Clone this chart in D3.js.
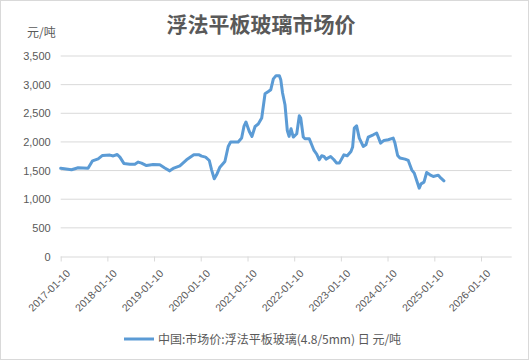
<!DOCTYPE html>
<html><head><meta charset="utf-8">
<script src="https://cdn.jsdelivr.net/npm/d3@7"></script>
<style>
html,body{margin:0;padding:0;background:#fff;}
svg{display:block;font-family:"Noto Sans CJK SC","Noto Sans",sans-serif;}
</style></head>
<body>
<svg id="chart" width="529" height="360"></svg>
<script>
const title = "浮法平板玻璃市场价";
const unitLabel = "元/吨";
const seriesName = "中国:市场价:浮法平板玻璃(4.8/5mm) 日 元/吨";
const dates = ["2017-01-10","2017-04-05","2017-05-26","2017-08-12","2017-09-16","2017-10-30","2017-12-03","2018-01-30","2018-02-25","2018-03-28","2018-04-18","2018-05-19","2018-07-05","2018-08-13","2018-09-08","2018-10-04","2018-11-12","2019-01-03","2019-02-24","2019-04-04","2019-05-13","2019-06-14","2019-07-31","2019-09-21","2019-11-17","2019-12-29","2020-01-17","2020-02-17","2020-03-17","2020-04-04","2020-04-25","2020-05-13","2020-06-08","2020-07-17","2020-08-12","2020-08-31","2020-10-29","2020-11-25","2020-12-13","2020-12-29","2021-01-24","2021-02-14","2021-03-10","2021-04-04","2021-05-01","2021-05-27","2021-06-22","2021-07-11","2021-07-31","2021-08-21","2021-09-16","2021-09-27","2021-10-11","2021-10-30","2021-11-17","2021-12-01","2021-12-16","2022-01-03","2022-01-30","2022-02-19","2022-03-02","2022-03-22","2022-04-04","2022-05-08","2022-05-27","2022-06-14","2022-07-05","2022-07-25","2022-08-13","2022-08-31","2022-09-16","2022-10-22","2022-11-17","2022-12-08","2022-12-29","2023-02-03","2023-03-01","2023-03-30","2023-04-12","2023-04-25","2023-05-13","2023-06-03","2023-07-04","2023-07-25","2023-08-12","2023-09-20","2023-10-17","2023-11-17","2023-12-13","2024-01-15","2024-02-23","2024-03-08","2024-03-29","2024-04-16","2024-05-26","2024-06-20","2024-07-17","2024-08-06","2024-08-25","2024-09-14","2024-09-28","2024-10-21","2024-11-11","2024-12-07","2025-01-02","2025-02-10","2025-03-03","2025-03-26"];
const prices = [1540,1515,1550,1540,1670,1705,1765,1770,1755,1780,1735,1625,1612,1612,1648,1630,1588,1606,1600,1545,1495,1543,1583,1688,1775,1775,1753,1735,1676,1513,1356,1426,1560,1658,1921,1998,1998,2068,2270,2348,2183,2096,2270,2312,2417,2840,2880,2912,3100,3157,3157,3087,2855,2650,2200,2096,2230,2085,2143,2458,2417,2085,2055,2055,1950,1851,1788,1688,1758,1746,1700,1746,1688,1630,1630,1775,1758,1833,1910,2242,2283,2067,1921,1950,2085,2125,2155,1980,2026,2038,2067,1980,1763,1718,1700,1676,1513,1455,1326,1193,1268,1298,1466,1426,1396,1420,1368,1321];
const xTickLabels = ["2017-01-10","2018-01-10","2019-01-10","2020-01-10","2021-01-10","2022-01-10","2023-01-10","2024-01-10","2025-01-10","2026-01-10"];
const yTicks = [0,500,1000,1500,2000,2500,3000,3500];

const parse = d3.timeParse("%Y-%m-%d");
const data = dates.map((d,i)=>({date:parse(d), value:prices[i]}));

const svg = d3.select("#chart");
const mLeft = 60.7, mRight = 511.7, mTop = 56, mBottom = 256.5;

svg.append("rect").attr("x",0.5).attr("y",0.5).attr("width",528).attr("height",359)
  .attr("fill","#fff").attr("stroke","#d9d9d9");

const x = d3.scaleTime().domain([parse("2017-01-10"), parse("2026-09-07")]).range([mLeft,mRight]);
const y = d3.scaleLinear().domain([0,3500]).range([mBottom,mTop]);

// gridlines
svg.append("g").selectAll("line").data(yTicks.filter(v=>v>0)).join("line")
  .attr("x1",mLeft).attr("x2",mRight).attr("y1",d=>y(d)).attr("y2",d=>y(d))
  .attr("stroke","#d9d9d9").attr("stroke-width",1);

// y axis labels
const yAxis = d3.axisLeft(y).tickValues(yTicks).tickSize(0).tickPadding(10).tickFormat(d3.format(","));
const gy = svg.append("g").attr("transform",`translate(${mLeft},0)`).call(yAxis);
gy.select(".domain").remove();
gy.selectAll("text").attr("fill","#595959").style("font-size","11px")
  .style("font-family","'Liberation Sans','Noto Sans',sans-serif");

// x axis
const xAxis = d3.axisBottom(x).tickValues(xTickLabels.map(parse)).tickSize(5).tickFormat(d3.timeFormat("%Y-%m-%d"));
const gx = svg.append("g").attr("transform",`translate(0,${mBottom})`).call(xAxis);
gx.select(".domain").attr("stroke","#d9d9d9").attr("d",`M${mLeft},0.5H${mRight}`);
gx.selectAll(".tick line").attr("stroke","#d9d9d9");
gx.selectAll("text").attr("fill","#595959").style("font-size","10.5px")
  .style("font-family","'Liberation Sans','Noto Sans',sans-serif")
  .attr("text-anchor","end").attr("dx","0").attr("dy","0")
  .attr("transform","translate(4,12) rotate(-45)");

// line
const line = d3.line().x(d=>x(d.date)).y(d=>y(d.value)).curve(d3.curveLinear);
svg.append("path").datum(data).attr("d",line).attr("fill","none")
  .attr("stroke","#5B9BD5").attr("stroke-width",3).attr("stroke-linejoin","round").attr("stroke-linecap","round");

// title
svg.append("text").attr("x",261).attr("y",32).attr("text-anchor","middle")
  .attr("fill","#595959").style("font-size","21px").style("font-weight","bold").text(title);
svg.append("text").attr("x",27).attr("y",37).attr("fill","#595959").style("font-size","12px").text(unitLabel);

// legend
svg.append("line").attr("x1",124).attr("x2",154).attr("y1",339).attr("y2",339)
  .attr("stroke","#5B9BD5").attr("stroke-width",3);
svg.append("text").attr("x",158).attr("y",343.5).attr("fill","#595959").style("font-size","12px").text(seriesName);
</script>
</body></html>
